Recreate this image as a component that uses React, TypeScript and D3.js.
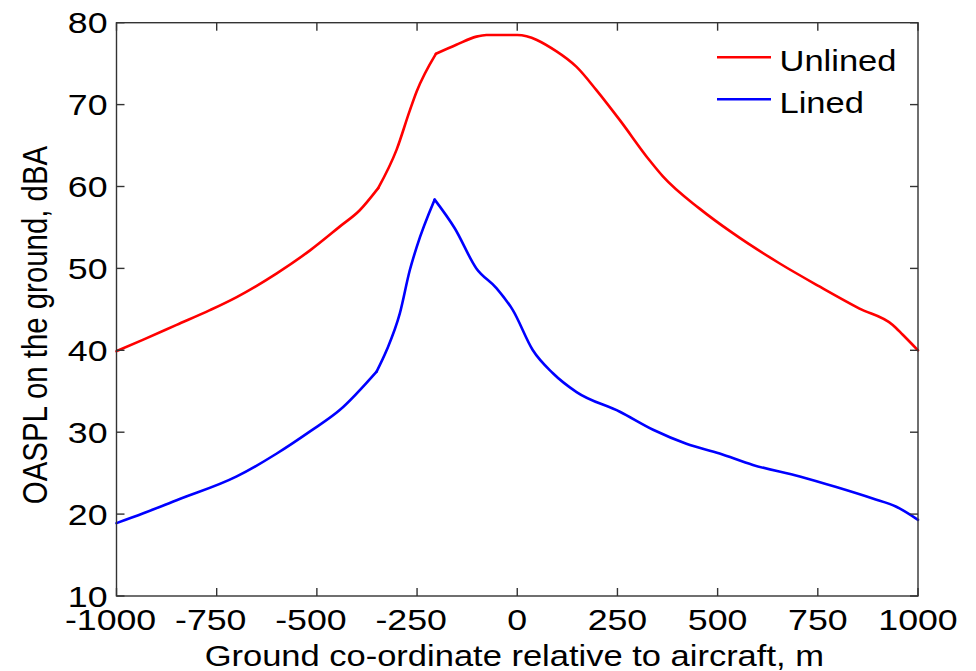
import React from "react";
import * as d3 from "d3";

const unlinedX = [-1000, -933, -850, -767, -700, -600, -517, -443, -393, -347, -301, -268, -251, -203, -152, -102, -77, 0, 98, 148, 197, 256, 330, 364, 455, 538, 655, 754, 854, 937, 962, 1000];
const unlinedY = [39.9, 41.3, 43.1, 44.9, 46.5, 49.4, 52.2, 55.1, 57.1, 59.8, 64.5, 69.3, 71.6, 76.2, 77.3, 78.3, 78.5, 78.5, 76.5, 74.6, 71.8, 68.1, 63.2, 61.2, 57.3, 54.3, 50.6, 47.8, 45.1, 43.1, 41.9, 40.0];

const linedX = [-1000, -933, -850, -700, -600, -517, -443, -351, -326, -293, -268, -251, -206, -156, -102, -52, -11, 39, 89, 148, 256, 339, 422, 505, 588, 705, 796, 887, 946, 1000];
const linedY = [18.9, 20.1, 21.7, 24.6, 27.4, 30.1, 32.7, 37.4, 40.0, 44.5, 49.8, 52.6, 58.4, 54.9, 50.0, 47.6, 44.9, 40.0, 37.2, 34.9, 32.5, 30.3, 28.6, 27.4, 26.0, 24.6, 23.3, 21.9, 20.9, 19.3];

const xTicks = [-1000, -750, -500, -250, 0, 250, 500, 750, 1000];
const yTicks = [10, 20, 30, 40, 50, 60, 70, 80];
const seriesNames = ["Unlined", "Lined"];
const seriesColors = ["#ff0000", "#0000ff"];

const W = 976;
const H = 671;
const L = 116.5, R = 918, T = 22.7, B = 596;
const FONT = "Liberation Sans, Arial, Helvetica, sans-serif";
const SX = 1.19;
const FS = 30;

type Pt = [number, number];

function splitAtKinks(pts: Pt[], kinkIdx: number[]): Pt[][] {
  const out: Pt[][] = [];
  let start = 0;
  for (const k of kinkIdx) {
    out.push(pts.slice(start, k + 1));
    start = k;
  }
  out.push(pts.slice(start));
  return out;
}

export default function App() {
  const x = d3.scaleLinear().domain([-1000, 1000]).range([L, R]);
  const y = d3.scaleLinear().domain([10, 80]).range([B, T]);
  const line = d3.line<Pt>().x((d) => x(d[0])).y((d) => y(d[1])).curve(d3.curveMonotoneX);
  const red = unlinedX.map((v, i) => [v, unlinedY[i]] as Pt);
  const blue = linedX.map((v, i) => [v, linedY[i]] as Pt);
  const redPeakStart = unlinedX.indexOf(-203);
  const redKink = unlinedX.indexOf(-347);
  const bluePeak = linedY.indexOf(d3.max(linedY) as number);
  const blueKink = linedX.indexOf(-351);
  const segs = [splitAtKinks(red, [redKink, redPeakStart]), splitAtKinks(blue, [blueKink, bluePeak])];
  const axisColor = "#333";
  const tl = 8;
  const hyphenShift = (0.333 * FS * SX) / 2;
  return (
    <svg width={W} height={H} style={{ position: "absolute", left: 0, top: 0, background: "#fff" }}>
      <rect x={0} y={0} width={W} height={H} fill="#fff" />
      {segs.map((parts, i) =>
        parts.map((p, j) => (
          <path key={i + "-" + j} d={line(p) || ""} fill="none" stroke={seriesColors[i]} strokeWidth={2.6} strokeLinejoin="round" strokeLinecap="round" />
        ))
      )}
      <rect x={L} y={T} width={R - L} height={B - T} fill="none" stroke={axisColor} strokeWidth={1.4} />
      {xTicks.map((t) => (
        <g key={"xt" + t}>
          <line x1={x(t)} x2={x(t)} y1={B} y2={B - tl} stroke={axisColor} strokeWidth={1.4} />
          <line x1={x(t)} x2={x(t)} y1={T} y2={T + tl} stroke={axisColor} strokeWidth={1.4} />
          <g transform={`translate(${x(t) - (t < 0 ? hyphenShift : 0)},630) scale(${SX},1)`}>
            <text textAnchor="middle" fontFamily={FONT} fontSize={FS} fill="#000">{String(t)}</text>
          </g>
        </g>
      ))}
      {yTicks.map((t) => (
        <g key={"yt" + t}>
          <line x1={L} x2={L + tl} y1={y(t)} y2={y(t)} stroke={axisColor} strokeWidth={1.4} />
          <line x1={R} x2={R - tl} y1={y(t)} y2={y(t)} stroke={axisColor} strokeWidth={1.4} />
          <g transform={`translate(107.5,${y(t) + 10.7}) scale(${SX},1)`}>
            <text textAnchor="end" fontFamily={FONT} fontSize={FS} fill="#000">{String(t)}</text>
          </g>
        </g>
      ))}
      <g transform={`translate(${(L + R) / 2 - 3},666) scale(${SX},1)`}>
        <text textAnchor="middle" fontFamily={FONT} fontSize={29} fill="#000">Ground co-ordinate relative to aircraft, m</text>
      </g>
      <g transform={`translate(46.5,325) scale(${SX},1) rotate(-90)`}>
        <text textAnchor="middle" fontFamily={FONT} fontSize={29.4} fill="#000">OASPL on the ground, dBA</text>
      </g>
      {seriesNames.map((n, i) => (
        <g key={n}>
          <line x1={717} x2={771} y1={57.3 + i * 42} y2={57.3 + i * 42} stroke={seriesColors[i]} strokeWidth={2.6} />
          <g transform={`translate(779.5,${70.7 + i * 42}) scale(${SX},1)`}>
            <text fontFamily={FONT} fontSize={29} fill="#000">{n}</text>
          </g>
        </g>
      ))}
    </svg>
  );
}
